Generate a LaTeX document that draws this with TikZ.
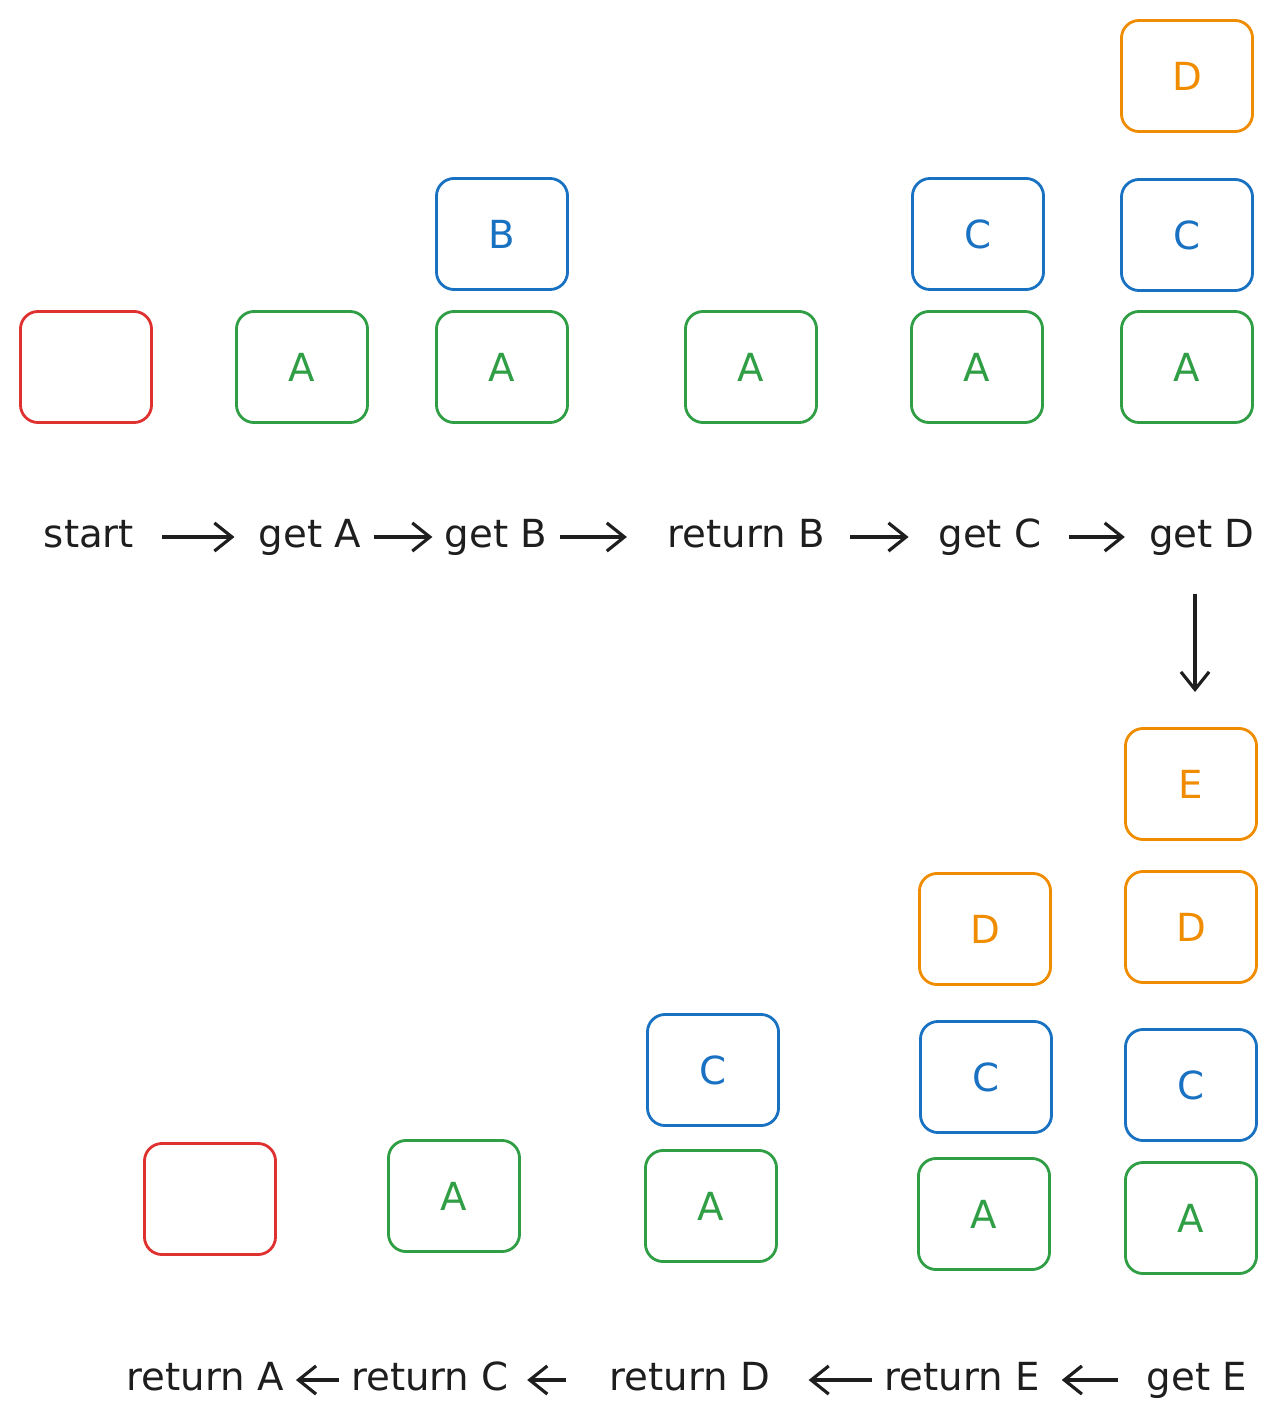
\documentclass[tikz,border=0pt]{standalone}
\usepackage{fontspec}
\setmainfont{DejaVu Sans}
\usetikzlibrary{arrows.meta}
\definecolor{redc}{HTML}{E03131}
\definecolor{grnc}{HTML}{2F9E44}
\definecolor{bluc}{HTML}{1971C2}
\definecolor{orgc}{HTML}{F08C00}
\definecolor{ink}{HTML}{1E1E1E}

\begin{document}
\begin{tikzpicture}[x=0.01cm,y=-0.01cm,>={Straight Barb[length=5pt,width=8pt]},
  font=\fontsize{11}{13}\selectfont,
  box/.style={draw=#1,text=#1,rounded corners=5pt,line width=0.8pt,
    minimum width=1.31cm,minimum height=1.11cm},
  lbl/.style={text=ink,text height=1.6ex,text depth=.5ex},
  arr/.style={->,draw=ink,line width=0.9pt}]
\useasboundingbox (0,0) rectangle (1281,1427);
% top: stacks
\node[box=redc] (r0) at (86,367) {};
\foreach \n/\x in {a1/302,a2/502,a3/751,a4/977,a5/1187}
  \node[box=grnc] (\n) at (\x,367) {A};
\node[box=bluc] (b2) at (502,234) {B};
\node[box=bluc] (c4) at (978,234) {C};
\node[box=bluc] (c5) at (1187,235) {C};
\node[box=orgc] (d5) at (1187,76) {D};
% top: steps
\node[lbl] (lstart) at (89,537) {start};
\node[lbl] (lgetA) at (310,537) {get A};
\node[lbl] (lgetB) at (496,537) {get B};
\node[lbl] (lretB) at (746,537) {return B};
\node[lbl] (lgetC) at (990,537) {get C};
\node[lbl] (lgetD) at (1202,537) {get D};
\draw[arr,shorten <=4.5pt,shorten >=3.4pt] (lstart) -- (lgetA);
\draw[arr] (lgetA) -- (lgetB);
\draw[arr,shorten >=8pt] (lgetB) -- (lretB);
\draw[arr,shorten <=3.7pt,shorten >=5pt] (lretB) -- (lgetC);
\draw[arr,shorten <=4.3pt,shorten >=3.4pt] (lgetC) -- (lgetD);
\coordinate (dn) at (1195,692);
\draw[arr,shorten <=7pt] (lgetD.south -| dn) -- (dn);
% bottom: stacks
\node[box=redc] (r6) at (210,1199) {};
\node[box=grnc] (a6) at (454,1196) {A};
\node[box=grnc] (a7) at (711,1206) {A};
\node[box=grnc] (a8) at (984,1214) {A};
\node[box=grnc] (a9) at (1191,1218) {A};
\node[box=bluc] (c7) at (713,1070) {C};
\node[box=bluc] (c8) at (986,1077) {C};
\node[box=bluc] (c9) at (1191,1085) {C};
\node[box=orgc] (d8) at (985,929) {D};
\node[box=orgc] (d9) at (1191,927) {D};
\node[box=orgc] (e9) at (1191,784) {E};
% bottom: steps
\node[lbl] (lretA) at (205,1380) {return A};
\node[lbl] (lretC) at (430,1380) {return C};
\node[lbl] (lretD) at (690,1380) {return D};
\node[lbl] (lretE) at (962,1380) {return E};
\node[lbl] (lgetE) at (1197,1380) {get E};
\draw[arr,shorten <=4.8pt,shorten >=2.8pt] (lgetE) -- (lretE);
\draw[arr,shorten >=7.4pt] (lretE) -- (lretD);
\draw[arr,shorten <=9pt,shorten >=1.7pt] (lretD) -- (lretC);
\draw[arr] (lretC) -- (lretA);
\end{tikzpicture}
\end{document}
